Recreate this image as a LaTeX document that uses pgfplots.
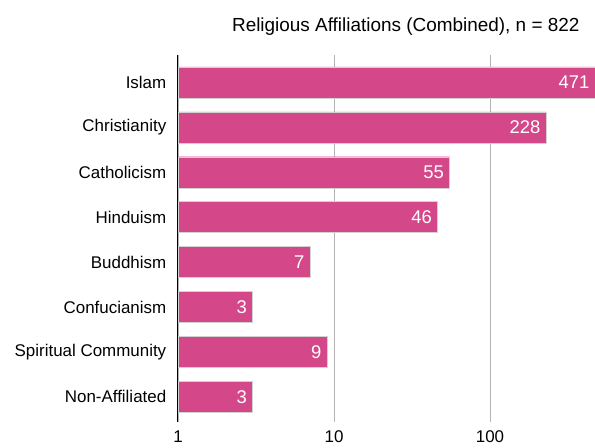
\documentclass[border=0pt]{standalone}
\usepackage{fontspec}
\setmainfont{Liberation Sans}
\usepackage{pgfplots}
\pgfplotsset{compat=1.18}
\definecolor{barpink}{RGB}{212,71,137}
\definecolor{gridgray}{RGB}{180,180,180}
\begin{document}
\begin{tikzpicture}
\begin{axis}[
  scale only axis,
  width=417bp, height=367bp,
  xbar, xmode=log, log basis x=10,
  xmin=1, xmax=471,
  ymin=-0.61, ymax=7.56,
  y dir=reverse,
  bar width=31bp,
  axis line style={draw=none},
  xtick={1,10,100},
  xticklabels={1,10,100},
  xtick style={draw=none},
  ytick={0,1,2,3,4,5,6,7},
  yticklabels={Islam,Christianity,Catholicism,Hinduism,Buddhism,Confucianism,Spiritual Community,Non-Affiliated},
  ytick style={draw=none},
  xmajorgrids, major grid style={gridgray, line width=0.8pt},
  tick label style={font=\fontsize{17}{20}\selectfont},
  /pgf/number format/assume math mode=true,
  xticklabel style={yshift=-5bp},
  yticklabel style={xshift=-4bp},
  nodes near coords,
  nodes near coords style={anchor=east, xshift=-2bp, text=white, font=\fontsize{18.5}{21}\selectfont},
  point meta=explicit symbolic,
  clip=false,
]
\addplot[fill=barpink, draw=gray!35, line width=0.5pt] coordinates {
  (471,0) [471]
  (228,1) [228]
  (55,2) [55]
  (46,3) [46]
  (7,4) [7]
  (3,5) [3]
  (9,6) [9]
  (3,7) [3]
};
\draw[black, line width=1pt] (rel axis cs:0,0) -- (rel axis cs:0,1);
\end{axis}
\node[anchor=east, font=\fontsize{19}{22}\selectfont] at ([xshift=-12bp,yshift=28bp]current axis.north east) {Religious Affiliations (Combined), n = 822};
\pgfresetboundingbox
\path ([xshift=-178bp,yshift=-25bp]current axis.south west) rectangle ([yshift=55bp]current axis.north east);
\end{tikzpicture}
\end{document}
